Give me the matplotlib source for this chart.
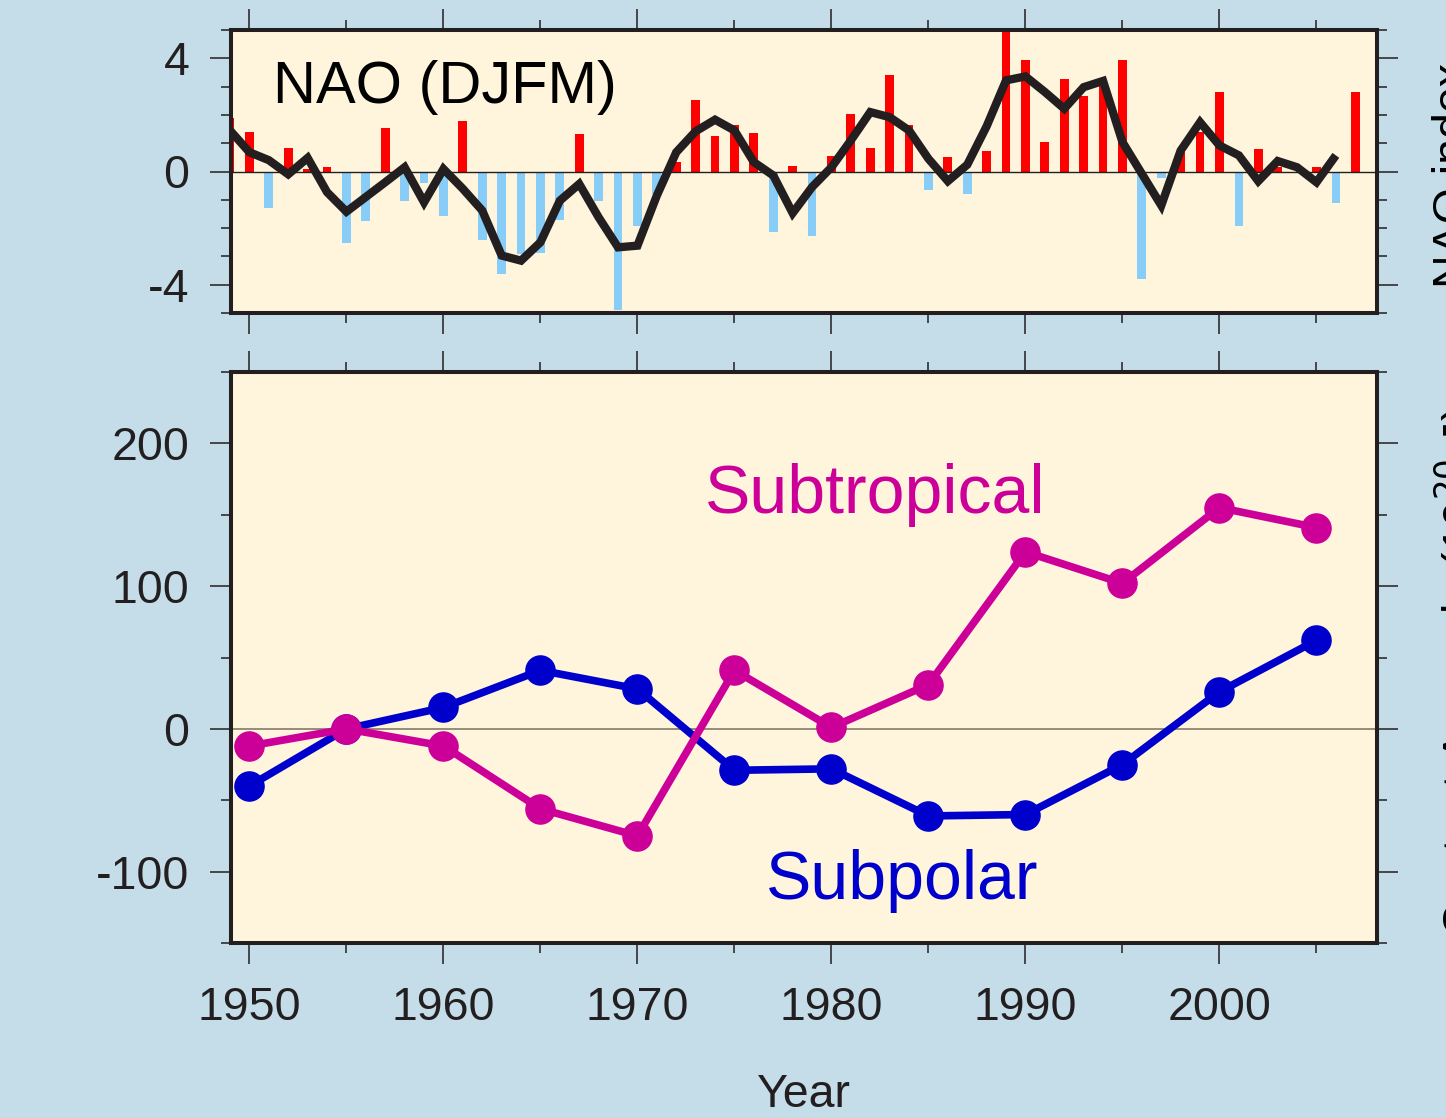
import matplotlib
matplotlib.use("Agg")
import matplotlib.pyplot as plt
import numpy as np
from matplotlib.ticker import MultipleLocator

plt.rcParams["font.family"] = ["Liberation Sans", "DejaVu Sans"]
plt.rcParams["axes.unicode_minus"] = False

# --- data ------------------------------------------------------------------
nao_years = list(range(1949, 2008))
nao_djfm = [
    1.9, 1.4, -1.3, 0.84, 0.1, 0.15, -2.54, -1.75, 1.52, -1.06,
    -0.39, -1.58, 1.79, -2.41, -3.62, -2.9, -2.88, -1.71, 1.31, -1.06,
    -4.9, -1.94, -0.8, 0.35, 2.51, 1.24, 1.64, 1.37, -2.15, 0.18,
    -2.27, 0.55, 2.04, 0.84, 3.42, 1.63, -0.67, 0.52, -0.79, 0.74,
    5.1, 3.94, 1.03, 3.26, 2.67, 3.1, 3.94, -3.81, -0.22, 0.7,
    1.4, 2.8, -1.94, 0.78, 0.15, -0.05, 0.17, -1.12, 2.8,
]
smooth_years = list(range(1949, 2007))
nao_smooth = [
    1.45, 0.68, 0.4, -0.1, 0.48, -0.73, -1.42, -0.9, -0.38, 0.15,
    -1.09, 0.09, -0.61, -1.38, -2.97, -3.15, -2.5, -1.03, -0.44, -1.62,
    -2.68, -2.62, -0.85, 0.68, 1.42, 1.83, 1.45, 0.33, -0.14, -1.47,
    -0.55, 0.15, 1.1, 2.1, 1.92, 1.45, 0.45, -0.34, 0.24, 1.6,
    3.22, 3.36, 2.81, 2.22, 2.98, 3.2, 1.04, -0.08, -1.2, 0.74,
    1.74, 0.92, 0.57, -0.34, 0.37, 0.15, -0.38, 0.57,
]
pentads = [1950, 1955, 1960, 1965, 1970, 1975, 1980, 1985, 1990, 1995, 2000, 2005]
subtropical = [-12, 0, -12, -56, -75, 41, 1, 31, 124, 102, 155, 141]
subpolar = [-40, 0, 15, 41, 28, -29, -28, -61, -60, -25, 26, 62]

# --- colours ---------------------------------------------------------------
FIG_BG = "#c5dde9"
AX_BG = "#fff5dc"
INK = "#231f20"
POS = "#ff0000"
NEG = "#88cdf8"
MAGENTA = "#cc0099"
BLUE = "#0000cc"

W, H = 1446, 1118
fig = plt.figure(figsize=(W / 100, H / 100), dpi=100, facecolor=FIG_BG)


def px_axes(left, top, right, bottom):
    return fig.add_axes([left / W, 1 - bottom / H, (right - left) / W, (bottom - top) / H])


ax_nao = px_axes(231, 30, 1377, 313)
ax_hc = px_axes(231, 372, 1377, 943)


def style(ax):
    ax.set_facecolor(AX_BG)
    for sp in ax.spines.values():
        sp.set_linewidth(2.9)
        sp.set_color(INK)
    ax.set_xlim(1949.05, 2008.12)
    ax.xaxis.set_major_locator(MultipleLocator(10))
    ax.xaxis.set_minor_locator(MultipleLocator(5))
    ax.tick_params(which="both", direction="out", top=True, right=True,
                   color=INK, width=1.1, labelcolor=INK, labelsize=33.5)
    ax.tick_params(which="major", length=15)
    ax.tick_params(which="minor", length=7.5)
    ax.tick_params(axis="y", pad=15)
    ax.tick_params(axis="x", pad=16)


style(ax_nao)
style(ax_hc)

# --- top panel: NAO index --------------------------------------------------
vals = np.array(nao_djfm)
colors = [POS if v > 0 else NEG for v in vals]
ax_nao.bar(nao_years, vals, width=0.45, color=colors, zorder=2)
ax_nao.axhline(0, color=INK, lw=1.0, zorder=3)
ax_nao.plot(smooth_years, nao_smooth, color=INK, lw=6, zorder=4,
            solid_joinstyle="miter", solid_capstyle="butt")
ax_nao.set_ylim(-5, 5)
ax_nao.yaxis.set_major_locator(MultipleLocator(4))
ax_nao.yaxis.set_minor_locator(MultipleLocator(1))
ax_nao.tick_params(axis="x", labelbottom=False)
ax_nao.text(0.037, 0.742, "NAO (DJFM)", transform=ax_nao.transAxes,
            fontsize=42.8, color="black", ha="left", va="baseline")

# --- bottom panel: gyre anomalies -------------------------------------------
ax_hc.axhline(0, color="#7a6e60", lw=1.1, zorder=1)
ax_hc.plot(pentads, subtropical, color=MAGENTA, lw=5.5, marker="o", ms=21,
           solid_joinstyle="miter", zorder=3)
ax_hc.plot(pentads, subpolar, color=BLUE, lw=5.5, marker="o", ms=21,
           solid_joinstyle="miter", zorder=2)
ax_hc.set_ylim(-150, 250)
ax_hc.yaxis.set_major_locator(MultipleLocator(100))
ax_hc.yaxis.set_minor_locator(MultipleLocator(50))
ax_hc.text(1973.5, 151, "Subtropical", color=MAGENTA, fontsize=49,
           ha="left", va="baseline")
ax_hc.text(1976.6, -119.5, "Subpolar", color=BLUE, fontsize=49,
           ha="left", va="baseline")
ax_hc.set_xlabel("Year", fontsize=33.5, color=INK, labelpad=31)

# right-hand axis titles, cut off by the figure edge as in the original
fig.text(1432 / W, 1 - 176 / H, "NAO index", rotation=90, fontsize=33.5,
         color="black", ha="left", va="center")
fig.text(1432 / W, 1 - 672 / H, "Content Anomaly (10$^{20}$ J)", rotation=90,
         fontsize=33.5, color="black", ha="left", va="center")

fig.savefig("out.png", dpi=100, facecolor=FIG_BG)
